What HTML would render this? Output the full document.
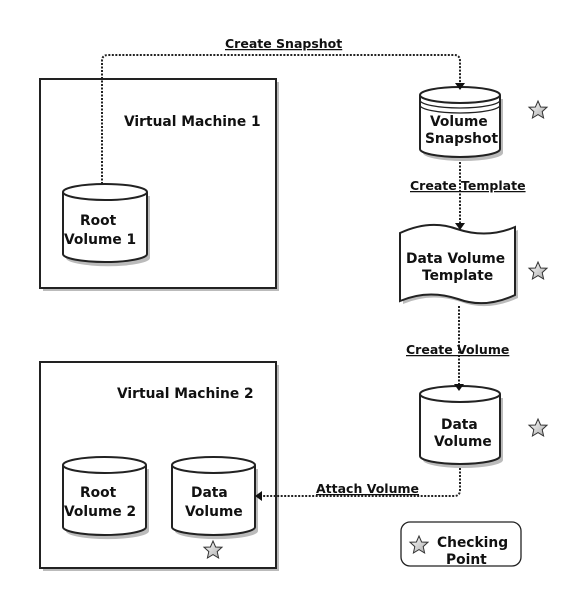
<!DOCTYPE html>
<html><head><meta charset="utf-8"><style>
body{margin:0;background:#fff}
text{font-family:"DejaVu Sans","Liberation Sans",sans-serif;font-weight:bold;font-size:13.8px;fill:#111}
.u{text-decoration:underline;font-size:12.5px}
</style></head><body>
<svg width="583" height="590" viewBox="0 0 583 590" xmlns="http://www.w3.org/2000/svg">
<defs>
<linearGradient id="g" x1="0" y1="0" x2="1" y2="1"><stop offset="0" stop-color="#fff"/><stop offset="1" stop-color="#aaa"/></linearGradient>
<g id="star"><polygon points="0,-9 2.6,-3 9,-2.8 4.2,1.6 5.6,8 0,4.6 -5.6,8 -4.2,1.6 -9,-2.8 -2.6,-3" fill="url(#g)" stroke="#333" stroke-width="1"/></g>
</defs>
<rect x="43" y="82" width="236" height="209" fill="#bbb"/>
<rect x="40" y="79" width="236" height="209" fill="#fff" stroke="#222" stroke-width="2"/>
<text x="124" y="126">Virtual Machine 1</text>
<rect x="43" y="365" width="236" height="206" fill="#bbb"/>
<rect x="40" y="362" width="236" height="206" fill="#fff" stroke="#222" stroke-width="2"/>
<text x="117" y="398">Virtual Machine 2</text>
<g stroke="#222" stroke-width="2">
<path d="M66,196 v62 a41,8 0 0 0 84,0 v-62" fill="#bbb" stroke="none"/>
<path d="M63,192 v62 a42,8 0 0 0 84,0 v-62 a42,8 0 0 0 -84,0 a42,8 0 0 0 84,0" fill="#fff"/>
<path d="M66,469 v62 a41,8 0 0 0 83,0 v-62" fill="#bbb" stroke="none"/>
<path d="M63,465 v62 a41.5,8 0 0 0 83,0 v-62 a41.5,8 0 0 0 -83,0 a41.5,8 0 0 0 83,0" fill="#fff"/>
<path d="M175,469 v62 a41,8 0 0 0 83,0 v-62" fill="#bbb" stroke="none"/>
<path d="M172,465 v62 a41.5,8 0 0 0 83,0 v-62 a41.5,8 0 0 0 -83,0 a41.5,8 0 0 0 83,0" fill="#fff"/>
<path d="M423,398 v62 a40,8 0 0 0 80,0 v-62" fill="#bbb" stroke="none"/>
<path d="M420,394 v62 a40,8 0 0 0 80,0 v-62 a40,8 0 0 0 -80,0 a40,8 0 0 0 80,0" fill="#fff"/>
<path d="M423,99 v54 a40,8 0 0 0 80,0 v-54" fill="#bbb" stroke="none"/>
<path d="M420,95 v54 a40,8 0 0 0 80,0 v-54 a40,8 0 0 0 -80,0 a40,8 0 0 0 80,0" fill="#fff"/>
<path d="M420,100 a40,8 0 0 0 80,0 M420,105 a40,8 0 0 0 80,0" fill="none" stroke-width="1.3"/>
<path d="M403,236 q30,-14 57,-4 q30,10 58,-2 v68 q-30,14 -57,4 q-30,-10 -58,2 z" fill="#bbb" stroke="none"/>
<path d="M400,233 q30,-14 57,-4 q30,10 58,-2 v68 q-30,14 -57,4 q-30,-10 -58,2 z" fill="#fff"/>
<rect x="401" y="522" width="120" height="44" rx="9" fill="#fff" stroke-width="1.3"/>
</g>
<text x="80" y="225">Root</text><text x="64" y="244">Volume 1</text>
<text x="80" y="497">Root</text><text x="64" y="516">Volume 2</text>
<text x="191" y="497">Data</text><text x="185" y="516">Volume</text>
<text x="441" y="429">Data</text><text x="434" y="446">Volume</text>
<text x="430" y="126">Volume</text><text x="425" y="143">Snapshot</text>
<text x="406" y="263">Data Volume</text><text x="422" y="280">Template</text>
<text x="437" y="547">Checking</text><text x="446" y="564">Point</text>
<g fill="none" stroke="#222" stroke-width="2" stroke-dasharray="2,1.5">
<path d="M102,184 V61 q0,-6 6,-6 H454 q6,0 6,6 V84"/>
<path d="M460,162 V228"/>
<path d="M459,306 V384"/>
<path d="M460,468 V490 q0,6 -6,6 H260"/>
</g>
<g fill="#111">
<polygon points="455,83 465,83 460,90"/>
<polygon points="455,223 465,223 460,230"/>
<polygon points="454,384 464,384 459,391"/>
<polygon points="262,491 262,501 255,496"/>
</g>
<text class="u" x="225" y="48">Create Snapshot</text>
<text class="u" x="410" y="190">Create Template</text>
<text class="u" x="406" y="354">Create Volume</text>
<text class="u" x="316" y="493">Attach Volume</text>
<use href="#star" x="538" y="110"/>
<use href="#star" x="538" y="271"/>
<use href="#star" x="538" y="428"/>
<use href="#star" x="213" y="550"/>
<use href="#star" x="419" y="545"/>
</svg>
</body></html>
